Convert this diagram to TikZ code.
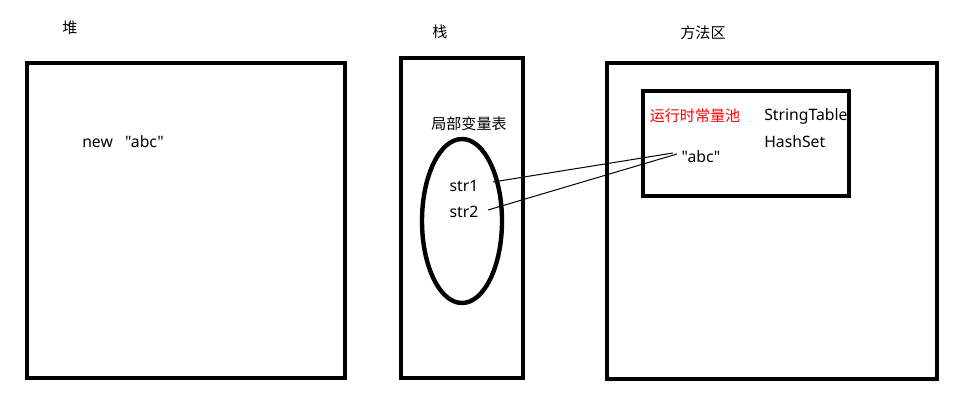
\documentclass[tikz,border=0pt]{standalone}
\usepackage{fontspec}
\setmainfont{Noto Sans}
\newfontfamily\lat{Noto Sans}
\newfontfamily\cjk{Noto Sans CJK SC}
\begin{document}
\begin{tikzpicture}[x=0.75pt,y=-0.75pt,
  box/.style={draw=black,line width=3.7pt},
  lbl/.style={inner sep=0pt,font=\lat\fontsize{11.8pt}{13pt}\selectfont},
  zh/.style={inner sep=0pt,font=\cjk\fontsize{11.3pt}{13pt}\selectfont},
  link/.style={draw=black,line width=0.75pt}]
\useasboundingbox (0,0) rectangle (967,409);
% boxes
\draw[box] (27,63) rectangle (345,378);
\draw[box] (401,58) rectangle (523,378);
\draw[box] (607,63) rectangle (937,379);
\draw[box] (643,91) rectangle (849,196);
\draw[line width=3.3pt] (462,221) ellipse [x radius=40, y radius=82];
% titles
\node[zh] (heap) at (70,28) {堆};
\node[zh] (stack) at (440,32) {栈};
\node[zh] (method) at (703,33) {方法区};
\node[lbl] (newabc) at (123,142) {new\ \ \ "abc"};
\node[zh] (lvt) at (469,124) {局部变量表};
\node[lbl] (str1) at (464,186) {str1};
\node[lbl] (str2) at (464,212) {str2};
\node[zh,text=red] (pool) at (695,116) {运行时常量池};
\node[lbl,anchor=west] (st) at (764,116) {StringTable};
\node[lbl,anchor=west] (hs) at (764,142) {HashSet};
\node[lbl] (abc) at (701,157) {"abc"};
% connectors
\coordinate (s1e) at (493,182);
\coordinate (s2e) at (488,210);
\coordinate (a1) at (673,153);
\coordinate (a2) at (677,154);
\draw[link] (s1e) -- (a1);
\draw[link] (s2e) -- (a2);
\end{tikzpicture}
\end{document}
